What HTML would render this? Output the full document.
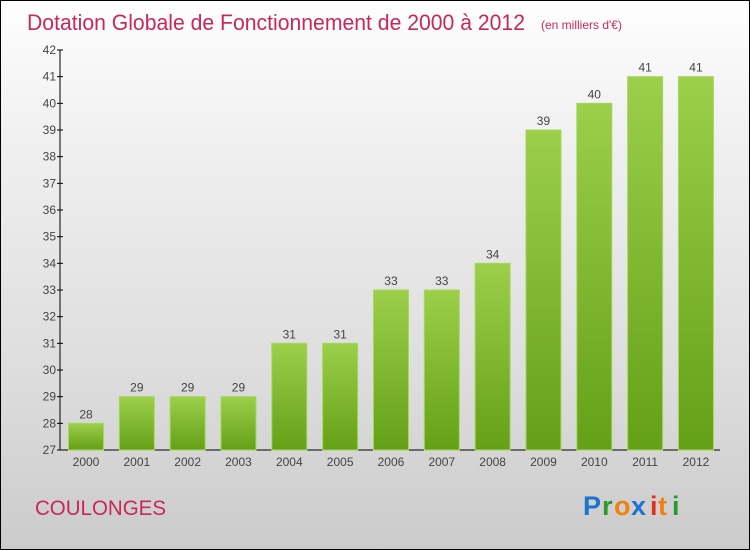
<!DOCTYPE html>
<html><head><meta charset="utf-8"><style>
html,body{margin:0;padding:0}
body{width:750px;height:550px;overflow:hidden;font-family:"Liberation Sans",sans-serif}
#frame{position:absolute;left:0;top:0;width:748px;height:548px;border:1px solid #000;background:linear-gradient(#fefefe 0%,#f0f0f0 25%,#dcdcdc 70%,#cbcbcb 100%)}
</style></head><body>
<div id="frame">
<svg width="750" height="550" style="position:absolute;left:-1px;top:-1px">
<defs><linearGradient id="bg" x1="0" y1="0" x2="0" y2="1"><stop offset="0" stop-color="#9ccf4a"/><stop offset="1" stop-color="#64a017"/></linearGradient></defs>
<text x="27" y="30" font-size="22" fill="#c8285a" font-family="Liberation Sans" textLength="498" lengthAdjust="spacingAndGlyphs">Dotation Globale de Fonctionnement de 2000 à 2012</text>
<text x="541" y="29" font-size="12" fill="#c8285a">(en milliers d'€)</text>
<g id="axes"></g>
<g id="bars"></g>
<text x="35" y="515" font-size="21" fill="#c8285a" textLength="131" lengthAdjust="spacingAndGlyphs">COULONGES</text>
<g font-size="27" font-weight="bold">
<text x="583" y="515" fill="#1a74d0">P</text><text x="602" y="515" fill="#2a9a2a">r</text><text x="614" y="515" fill="#f08010">o</text><text x="631" y="515" fill="#1a74d0">x</text><text x="650" y="515" fill="#e03020">i</text><text x="658" y="515" fill="#f08010">t</text><text x="672" y="515" fill="#2a9a2a">i</text>
</g>
</svg></div>
<script>
const years=["2000","2001","2002","2003","2004","2005","2006","2007","2008","2009","2010","2011","2012"];
const values=[28,29,29,29,31,31,33,33,34,39,40,41,41];
const yTicks=[27,28,29,30,31,32,33,34,35,36,37,38,39,40,41,42];
const NS="http://www.w3.org/2000/svg";
const yMin=27,yMax=42,plotTop=50,plotBot=450;
function yPos(v){return plotBot-(v-yMin)/(yMax-yMin)*(plotBot-plotTop);}
function xc(i){return 86+i*50.83;}
function mk(t,a,p){const e=document.createElementNS(NS,t);for(const k in a)e.setAttribute(k,a[k]);p.appendChild(e);return e;}
const ax=document.getElementById('axes'),bg=document.getElementById('bars');
const yl=mk('line',{x1:60,y1:plotTop,x2:60,y2:plotBot,stroke:'#000','stroke-width':1},ax);


const xl=mk('line',{x1:60,y1:plotBot,x2:720,y2:plotBot,stroke:'#000','stroke-width':1},ax);


yTicks.forEach(v=>{
 mk('line',{x1:57,y1:yPos(v),x2:63,y2:yPos(v),stroke:'#000'},ax);
 const t=mk('text',{x:56,y:yPos(v)+4,'font-size':12,fill:'#444','text-anchor':'end'},ax);t.textContent=v;
 
 
});
years.forEach((yr,i)=>{
 const v=values[i],x=xc(i);
 const r=mk('rect',{x:x-17.5,y:yPos(v),width:35,height:plotBot-yPos(v),fill:'url(#bg)',stroke:'#a6d85a','stroke-width':1},bg);
 
 
 const l=mk('text',{x:x,y:yPos(v)-5,'font-size':12,fill:'#444','text-anchor':'middle'},bg);l.textContent=v;
 
 
 const t=mk('text',{x:x,y:466,'font-size':12,fill:'#444','text-anchor':'middle'},ax);t.textContent=yr;
 
 
});
</script>
</body></html>
